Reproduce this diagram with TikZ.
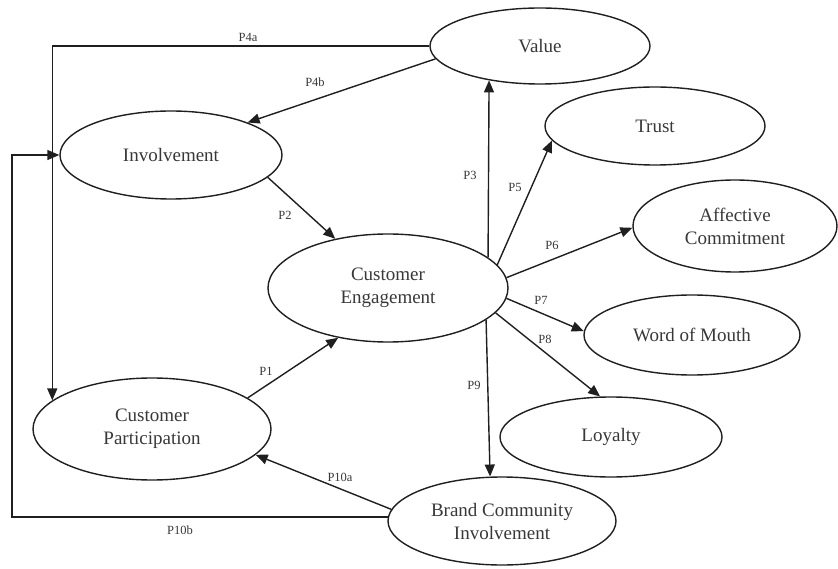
\documentclass[tikz,border=0pt]{standalone}
\usepackage{fontspec}
\setmainfont{Liberation Serif}
\usetikzlibrary{shapes.geometric,arrows.meta}
\definecolor{txt}{rgb}{0.22,0.22,0.22}
\definecolor{ln}{rgb}{0.12,0.12,0.12}
\begin{document}
\begin{tikzpicture}[x=1pt,y=-1pt,
  ell/.style={ellipse,draw=ln,line width=1.4pt,inner sep=0pt,align=center,text=txt,
    font=\fontsize{19}{23}\selectfont},
  arr/.style={draw=ln,line width=1.4pt,-{Triangle[length=12pt,width=10pt]}},
  lbl/.style={text=txt,font=\fontsize{12.5}{14}\selectfont,inner sep=0pt}]
\useasboundingbox (0,0) rectangle (838,569);
\node[ell,minimum width=220pt,minimum height=76pt] (val) at (540,46) {Value};
\node[ell,minimum width=220pt,minimum height=78pt] (tru) at (655,126) {Trust};
\node[ell,minimum width=204pt,minimum height=92pt] (aff) at (735,226) {Affective\\Commitment};
\node[ell,minimum width=222pt,minimum height=88pt] (inv) at (171,155) {Involvement};
\node[ell,minimum width=240pt,minimum height=108pt] (ce) at (388,288) {Customer\\Engagement};
\node[ell,minimum width=216pt,minimum height=80pt] (wom) at (692,335) {Word of Mouth};
\node[ell,minimum width=238pt,minimum height=102pt] (cp) at (152,429) {Customer\\Participation};
\node[ell,minimum width=222pt,minimum height=80pt] (loy) at (611,437) {Loyalty};
\node[ell,minimum width=228pt,minimum height=88pt] (bci) at (502,521) {Brand Community\\Involvement};
\coordinate (lx) at (12,155);
% connectors
\draw[arr] (val.west) -| (cp.164);
\draw[arr] (val.187) -- (inv.23);
\draw[arr] (inv.-13) -- (ce.137);
\draw[arr] (cp.18) -- (ce.-135);
\draw[arr] (ce.17.5) -- (val.214);
\draw[arr] (ce.12) -- (tru.188);
\draw[arr] (ce.5) -- (aff.181);
\draw[arr] (ce.-5) -- (wom.178);
\draw[arr] (ce.-13) -- (loy.105);
\draw[arr] (ce.-18) -- (bci.105);
\draw[arr] (bci.174) -- (cp.-14);
\draw[arr] (bci.178) -| (lx) -- (inv.west);
% labels
\node[lbl] (l4a) at (248,37) {P4a};
\node[lbl] (l4b) at (315,82) {P4b};
\node[lbl] (l2) at (285,215) {P2};
\node[lbl] (l1) at (266,371) {P1};
\node[lbl] (l10a) at (340,477) {P10a};
\node[lbl] (l10b) at (180,530) {P10b};
\node[lbl] (l3) at (470,175) {P3};
\node[lbl] (l5) at (515,187) {P5};
\node[lbl] (l6) at (552,245) {P6};
\node[lbl] (l7) at (541,300) {P7};
\node[lbl] (l8) at (545,339) {P8};
\node[lbl] (l9) at (474,385) {P9};
\end{tikzpicture}
\end{document}
